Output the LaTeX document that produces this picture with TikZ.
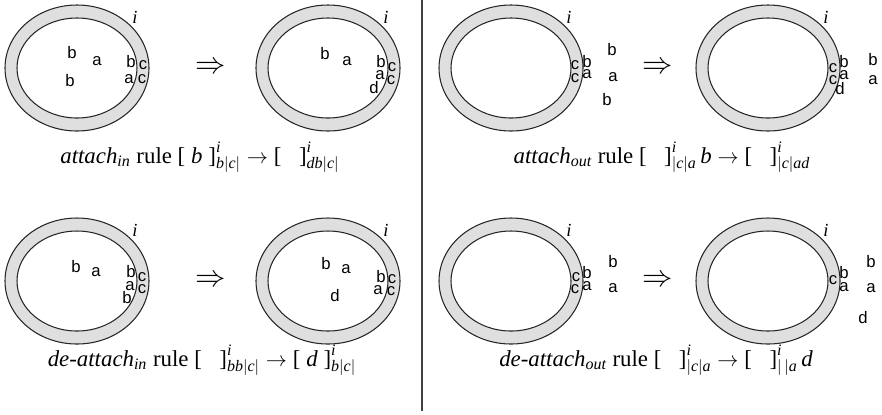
\documentclass[tikz,border=0pt]{standalone}
\usepackage{amsmath}
\usepackage{fontspec}
\setmainfont{Liberation Serif}
\setsansfont{Liberation Sans}
\usetikzlibrary{positioning}
\newcommand{\mi}[1]{\textit{#1}}
\newcommand{\lbr}{\textup{[}}
\newcommand{\rbr}{\textup{]}}

\begin{document}
\begin{tikzpicture}[
  x=0.02cm, y=-0.02cm,
  ringfill/.style={fill=gray!25, even odd rule},
  ringline/.style={draw=black!85, line width=0.6pt},
  obj/.style={font=\fontsize{9.5}{11}\selectfont\sffamily, inner sep=0pt},
  memlab/.style={font=\fontsize{10.5}{12}\selectfont, inner sep=0pt},
  imp/.style={font=\fontsize{16}{18}\selectfont, inner sep=0pt},
  rulecap/.style={font=\fontsize{13}{15}\selectfont, inner sep=0pt, anchor=base}
]
\useasboundingbox (0,0) rectangle (882,414);

% membranes
\foreach \m/\cx/\cy in {m1/77/68, m2/328/68, m3/511/68, m4/768/68,
                        m5/77/281, m6/328/281, m7/511/281, m8/768/281}{
  \coordinate (\m) at (\cx,\cy);
  \fill[ringfill] (\m) ellipse [x radius=72, y radius=63]
                  (\m) ellipse [x radius=60, y radius=50];
  \draw[ringline] (\m) ellipse [x radius=72, y radius=63];
  \draw[ringline] (\m) ellipse [x radius=60, y radius=50];
  \node[memlab] (\m-i) at (\cx+58,\cy-51) {\itshape i};
}

% separator
\coordinate (septop) at (422,0);
\coordinate (sepbot) at (422,411);
\draw[line width=0.8pt, black!75] (septop) -- (sepbot);

% rule arrows
\node[imp] (imp1) at (211,68)  {$\Rightarrow$};
\node[imp] (imp2) at (658,68)  {$\Rightarrow$};
\node[imp] (imp3) at (211,281) {$\Rightarrow$};
\node[imp] (imp4) at (658,281) {$\Rightarrow$};

% attach_in
\node[obj] (b11) at (72,53)  {b};
\node[obj] (a11) at (97,61)  {a};
\node[obj] (b12) at (70,81)  {b};
\node[obj] (b13) at (131,62) {b};
\node[obj] (c11) at (143,65) {c};
\node[obj] (a12) at (129,79) {a};
\node[obj] (c12) at (142,79) {c};

\node[obj] (b21) at (325,54) {b};
\node[obj] (a21) at (347,61) {a};
\node[obj] (b22) at (381,62) {b};
\node[obj] (c21) at (392,67) {c};
\node[obj] (a22) at (380,75) {a};
\node[obj] (c22) at (391,80) {c};
\node[obj] (d21) at (374,88) {d};

% attach_out
\node[obj] (c31) at (575,65)  {c};
\node[obj] (c32) at (575,78)  {c};
\node[obj] (b31) at (587,62)  {b};
\node[obj] (a31) at (587,74)  {a};
\node[obj] (b32) at (612,50)  {b};
\node[obj] (a32) at (613,77)  {a};
\node[obj] (b33) at (607,100) {b};

\node[obj] (c41) at (833,68) {c};
\node[obj] (c42) at (833,80) {c};
\node[obj] (b41) at (844,62) {b};
\node[obj] (a41) at (844,75) {a};
\node[obj] (d41) at (840,89) {d};
\node[obj] (b42) at (873,60) {b};
\node[obj] (a42) at (873,80) {a};

% de-attach_in
\node[obj] (b51) at (76,267)  {b};
\node[obj] (a51) at (96,272)  {a};
\node[obj] (b52) at (131,272) {b};
\node[obj] (c51) at (142,277) {c};
\node[obj] (a52) at (130,286) {a};
\node[obj] (c52) at (142,289) {c};
\node[obj] (b53) at (127,298) {b};

\node[obj] (b61) at (326,264) {b};
\node[obj] (a61) at (346,269) {a};
\node[obj] (d61) at (335,296) {d};
\node[obj] (b62) at (381,277) {b};
\node[obj] (c61) at (392,279) {c};
\node[obj] (a62) at (378,290) {a};
\node[obj] (c62) at (391,291) {c};

% de-attach_out
\node[obj] (c71) at (576,277) {c};
\node[obj] (c72) at (575,289) {c};
\node[obj] (b71) at (587,273) {b};
\node[obj] (a71) at (587,286) {a};
\node[obj] (b72) at (613,262) {b};
\node[obj] (a72) at (613,288) {a};

\node[obj] (c81) at (833,280) {c};
\node[obj] (b81) at (844,273) {b};
\node[obj] (a81) at (844,287) {a};
\node[obj] (b82) at (871,262) {b};
\node[obj] (a82) at (871,288) {a};
\node[obj] (d81) at (863,318) {d};

% captions
\node[rulecap] (cap1) at (200,163)
  {$\mi{attach}_{\mi{in}}$ rule $\lbr\;\mi{b}\;\rbr^{\mi{i}}_{\mi{b}|\mi{c}|}\rightarrow\lbr\;\;\;\rbr^{\mi{i}}_{\mi{db}|\mi{c}|}$};
\node[rulecap] (cap2) at (662,163)
  {$\mi{attach}_{\mi{out}}$ rule $\lbr\;\;\;\rbr^{\mi{i}}_{|\mi{c}|\mi{a}}\,\mi{b}\rightarrow\lbr\;\;\;\rbr^{\mi{i}}_{|\mi{c}|\mi{ad}}$};
\node[rulecap] (cap3) at (202,366)
  {$\mi{de-attach}_{\mi{in}}$ rule $\lbr\;\;\;\rbr^{\mi{i}}_{\mi{bb}|\mi{c}|}\rightarrow\lbr\;\mi{d}\;\rbr^{\mi{i}}_{\mi{b}|\mi{c}|}$};
\node[rulecap] (cap4) at (656,366)
  {$\mi{de-attach}_{\mi{out}}$ rule $\lbr\;\;\;\rbr^{\mi{i}}_{|\mi{c}|\mi{a}}\rightarrow\lbr\;\;\;\rbr^{\mi{i}}_{|\,|\mi{a}}\,\mi{d}$};
\end{tikzpicture}
\end{document}
